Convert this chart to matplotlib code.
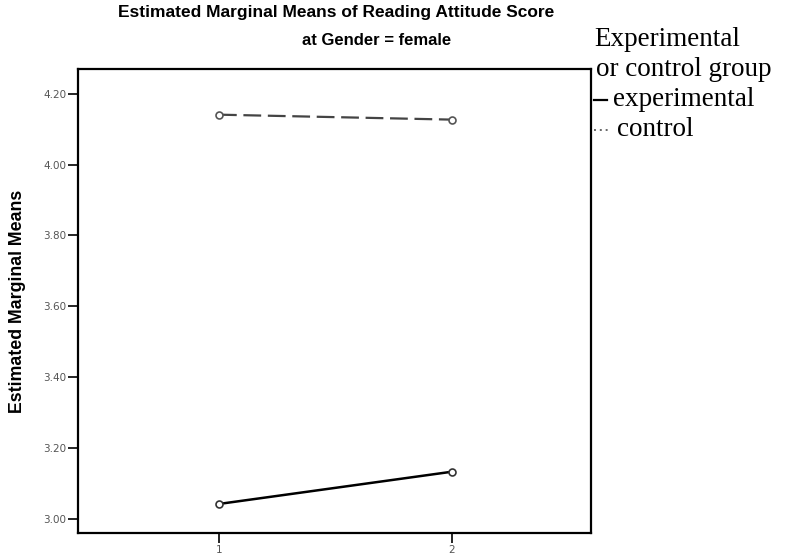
import matplotlib
matplotlib.use("Agg")
import matplotlib.pyplot as plt
from matplotlib.lines import Line2D

levels = [1, 2]
experimental = [3.042, 3.133]
control = [4.141, 4.127]
yticks = [3.00, 3.20, 3.40, 3.60, 3.80, 4.00, 4.20]
legend_title = ["Experimental", "or control group"]
series_names = ["experimental", "control"]

fig = plt.figure(figsize=(7.97, 5.54), dpi=100)
ax = fig.add_axes([0.0979, 0.0379, 0.6436, 0.8376])

ax.plot(levels, experimental, color="black", lw=1.8, marker="o", ms=5,
        mfc="white", mec="#333333", mew=1.2, zorder=3)
ax.plot(levels, control, color="#444444", lw=1.6, ls=(0, (8, 3)), marker="o", ms=5,
        mfc="white", mec="#555555", mew=1.2, zorder=3)

ax.set_xlim(0.395, 2.597)
ax.set_ylim(2.96, 4.27)
ax.set_xticks(levels)
ax.set_xticklabels([str(v) for v in levels])
ax.set_yticks(yticks)
ax.set_yticklabels([f"{v:.2f}" for v in yticks])
ax.tick_params(axis="both", direction="out", length=7, width=1.2, labelsize=7.5,
               labelcolor="#555555", pad=1.5)
for s in ax.spines.values():
    s.set_linewidth(1.6)
    s.set_color("black")

ax.set_ylabel("Estimated Marginal Means", fontsize=12.8, fontweight="bold",
              family="Liberation Sans", labelpad=12)

fig.text(0.4216, 0.978, "Estimated Marginal Means of Reading Attitude Score",
         ha="center", va="center", fontsize=12.5, fontweight="bold", family="Liberation Sans")
fig.text(0.473, 0.926, "at Gender = female", ha="center", va="center",
         fontsize=12, fontweight="bold", family="Liberation Sans")

# legend drawn beside the plot
serif = "Liberation Serif"
fs = 19.5
fig.text(594 / 797, 1 - 40 / 554, legend_title[0], ha="left", va="center",
         fontsize=fs, family=serif)
fig.text(596 / 797, 1 - 70 / 554, legend_title[1], ha="left", va="center",
         fontsize=fs, family=serif)
fig.text(613 / 797, 1 - 99 / 554, series_names[0], ha="left", va="center",
         fontsize=fs, family=serif)
fig.text(617 / 797, 1 - 129 / 554, series_names[1], ha="left", va="center",
         fontsize=fs, family=serif)
fig.add_artist(Line2D([594 / 797, 607 / 797], [1 - 100 / 554] * 2, color="black",
                      lw=1.6, transform=fig.transFigure))
fig.add_artist(Line2D([594 / 797, 610 / 797], [1 - 130 / 554] * 2, color="#666666",
                      lw=1.4, ls=(0, (1, 2)), transform=fig.transFigure))

fig.savefig("out.png", dpi=100)
